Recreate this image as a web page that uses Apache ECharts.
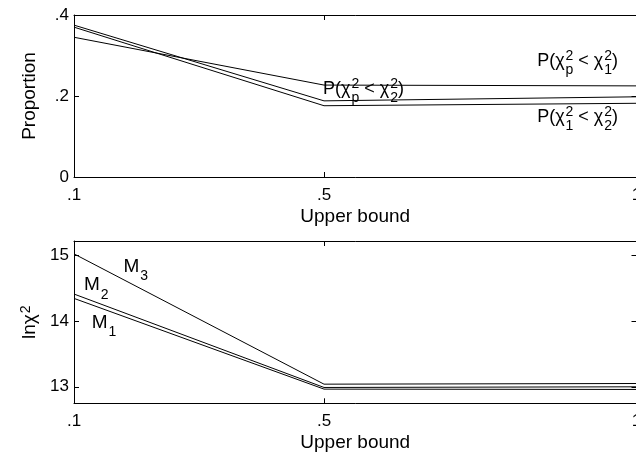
<!DOCTYPE html>
<html><head><meta charset="utf-8">
<script src="https://cdn.jsdelivr.net/npm/echarts@6/dist/echarts.min.js"></script>
<style>html,body{margin:0;padding:0;background:#fff}#c{width:636px;height:458px}</style>
</head><body><div id="c"></div>
<script>
const FONT = '"Liberation Sans", Arial, Helvetica, sans-serif';

// ---- data ----
const xValues = [0.1, 0.5, 1];
const xTickValues = [0.1, 0.5, 1];
const xTickLabels = ['.1', '.5', '1'];
const propTickValues = [0, 0.2, 0.4];
const propTickLabels = ['0', '.2', '.4'];
const lnTickValues = [13, 14, 15];
const lnTickLabels = ['13', '14', '15'];

const propP1 = [0.345, 0.227, 0.225];   // P(χp² < χ1²)
const propP2 = [0.375, 0.188, 0.198];   // P(χp² < χ2²)
const prop12 = [0.370, 0.176, 0.182];   // P(χ1² < χ2²)

const lnM1 = [14.34, 12.965, 12.96];
const lnM2 = [14.406, 12.99, 13.0];
const lnM3 = [15.015, 13.04, 13.05];

const propRange = [0, 0.4];
const lnRange = [12.75, 15.21];

// annotation anchors (data coordinates of text baseline start)
const propNotes = [
  { parts: ['P(χ', { sup: '2', sub: 'p' }, ' < χ', { sup: '2', sub: '1' }, ')'], at: [0.841, 0.2716] },
  { parts: ['P(χ', { sup: '2', sub: 'p' }, ' < χ', { sup: '2', sub: '2' }, ')'], at: [0.4984, 0.2025] },
  { parts: ['P(χ', { sup: '2', sub: '1' }, ' < χ', { sup: '2', sub: '2' }, ')'], at: [0.841, 0.1326] }
];
const lnNotes = [
  { parts: ['M', { sub: '3' }], at: [0.179, 14.72] },
  { parts: ['M', { sub: '2' }], at: [0.116, 14.441] },
  { parts: ['M', { sub: '1' }], at: [0.1283, 13.876] }
];

// ---- helpers ----
function fmt(values, labels) {
  return v => {
    for (let i = 0; i < values.length; i++) if (Math.abs(v - values[i]) < 1e-9) return labels[i];
    return '';
  };
}
const black = '#000';
function xAx(grid, bottom) {
  return {
    type: 'value', gridIndex: grid, min: 0.1, max: 1,
    position: bottom ? 'bottom' : 'top',
    axisLine: { show: true, onZero: false, lineStyle: { color: black, width: 1 } },
    axisTick: { show: true, inside: true, length: 5, customValues: xTickValues, lineStyle: { color: black } },
    axisLabel: bottom ? { show: true, customValues: xTickValues, formatter: fmt(xTickValues, xTickLabels),
      margin: 10, fontSize: 17, color: black, fontFamily: FONT } : { show: false },
    splitLine: { show: false },
    name: bottom ? 'Upper bound' : '', nameLocation: 'middle', nameGap: 30,
    nameTextStyle: { fontSize: 19, color: black, fontFamily: FONT }
  };
}
function yAx(grid, left, range, ticks, labels) {
  return {
    type: 'value', gridIndex: grid, min: range[0], max: range[1],
    position: left ? 'left' : 'right',
    axisLine: { show: true, onZero: false, lineStyle: { color: black, width: 1 } },
    axisTick: { show: true, inside: true, length: 5, customValues: ticks, lineStyle: { color: black } },
    axisLabel: left ? { show: true, customValues: ticks, formatter: fmt(ticks, labels),
      margin: 5, fontSize: 17, color: black, fontFamily: FONT } : { show: false },
    splitLine: { show: false }
  };
}
function line(data, xi, yi) {
  return {
    type: 'line', xAxisIndex: xi, yAxisIndex: yi, symbol: 'none', silent: true,
    lineStyle: { color: black, width: 1 },
    data: xValues.map((x, i) => [x, data[i]])
  };
}

const chart = echarts.init(document.getElementById('c'), null, { renderer: 'canvas' });
chart.setOption({
  animation: false,
  backgroundColor: '#fff',
  grid: [
    { left: 74, top: 15, width: 562.5, height: 162, containLabel: false, outerBoundsMode: 'none' },
    { left: 74, top: 241, width: 562.5, height: 162.3, containLabel: false, outerBoundsMode: 'none' }
  ],
  xAxis: [xAx(0, true), xAx(0, false), xAx(1, true), xAx(1, false)],
  yAxis: [
    yAx(0, true, propRange, propTickValues, propTickLabels),
    yAx(0, false, propRange, propTickValues, propTickLabels),
    yAx(1, true, lnRange, lnTickValues, lnTickLabels),
    yAx(1, false, lnRange, lnTickValues, lnTickLabels)
  ],
  series: [
    line(propP1, 0, 0), line(propP2, 0, 0), line(prop12, 0, 0),
    line(lnM1, 2, 2), line(lnM2, 2, 2), line(lnM3, 2, 2)
  ]
});

const mctx = document.createElement('canvas').getContext('2d');
function tw(t, s) { mctx.font = s + 'px ' + FONT; return mctx.measureText(t).width; }
function txt(t, x, base, size) {
  return { type: 'text', x: x, y: base - 0.35 * size, silent: true,
    style: { text: t, font: size + 'px ' + FONT, fill: black, align: 'left', verticalAlign: 'middle' } };
}
function mathText(parts, x0, base, size, ss) {
  const els = []; let x = x0;
  for (const p of parts) {
    if (typeof p === 'string') { els.push(txt(p, x, base, size)); x += tw(p, size); }
    else {
      let wm = 0;
      if (p.sup) { els.push(txt(p.sup, x + 1, base - 6, ss)); wm = Math.max(wm, tw(p.sup, ss) + 1); }
      if (p.sub) { els.push(txt(p.sub, x + 1, base + 8, ss)); wm = Math.max(wm, tw(p.sub, ss) + 1); }
      x += wm;
    }
  }
  return { els: els, width: x - x0 };
}

const graphic = [];
propNotes.forEach(n => {
  const px = chart.convertToPixel({ xAxisIndex: 0, yAxisIndex: 0 }, n.at);
  graphic.push(...mathText(n.parts, px[0], px[1], 18, 14).els);
});
lnNotes.forEach(n => {
  const px = chart.convertToPixel({ xAxisIndex: 2, yAxisIndex: 2 }, n.at);
  graphic.push(...mathText(n.parts, px[0], px[1], 19, 14).els);
});
// y-axis titles
const g0 = chart.convertToPixel({ xAxisIndex: 0, yAxisIndex: 0 }, [0.1, 0.2]);
graphic.push({ type: 'text', x: 30, y: g0[1], rotation: Math.PI / 2, silent: true,
  style: { text: 'Proportion', font: '19px ' + FONT, fill: black, align: 'center', verticalAlign: 'middle' } });
const g1 = chart.convertToPixel({ xAxisIndex: 2, yAxisIndex: 2 }, [0.1, (lnRange[0] + lnRange[1]) / 2]);
const lnLab = mathText(['lnχ', { sup: '2' }], 0, 0, 19, 14);
lnLab.els.forEach(e => { e.x -= lnLab.width / 2; e.y += 0.36 * 19; });
graphic.push({ type: 'group', x: 30, y: g1[1], rotation: Math.PI / 2, silent: true, children: lnLab.els });

chart.setOption({ graphic: graphic });
</script></body></html>
